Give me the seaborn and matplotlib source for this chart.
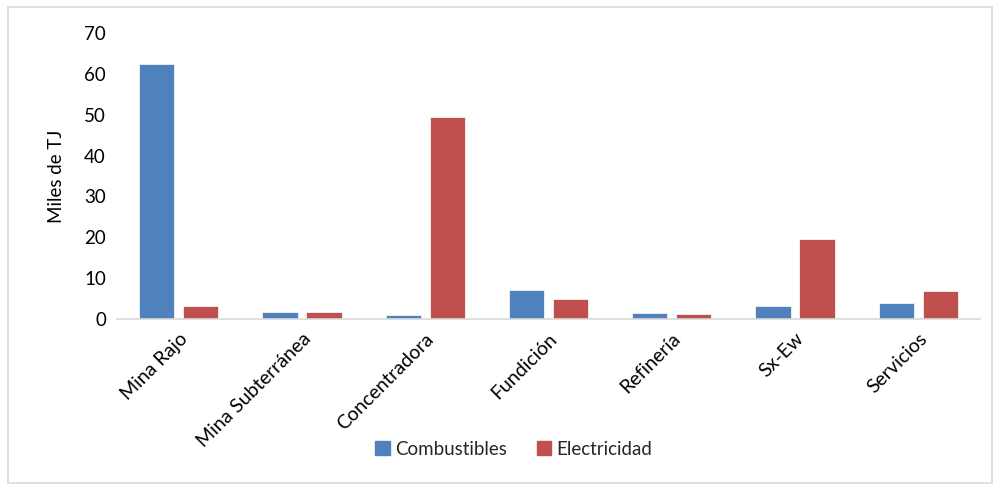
import matplotlib
matplotlib.use("Agg")
import matplotlib.pyplot as plt
import matplotlib.patches as mpatches
import seaborn as sns
import pandas as pd

categorias = ["Mina Rajo", "Mina Subterránea", "Concentradora", "Fundición",
              "Refinería", "Sx-Ew", "Servicios"]
combustibles = [62.5, 1.6, 1.0, 7.1, 1.5, 3.2, 3.8]
electricidad = [3.1, 1.6, 49.5, 5.0, 1.2, 19.5, 6.9]
series = ["Combustibles", "Electricidad"]
colores = ["#4F81BD", "#C0504D"]
yticks = [0, 10, 20, 30, 40, 50, 60, 70]

df = pd.DataFrame({
    "categoria": categorias * 2,
    "serie": [series[0]] * len(categorias) + [series[1]] * len(categorias),
    "valor": combustibles + electricidad,
})

sns.set_theme(style="white")
plt.rcParams["font.family"] = ["Lato", "DejaVu Sans"]

fig = plt.figure(figsize=(10, 4.87), dpi=100)
ax = fig.add_axes([0.117, 0.345, 0.863, 0.587])

sns.barplot(data=df, x="categoria", y="valor", hue="serie", palette=colores,
            saturation=1, width=0.714, gap=0.2, edgecolor="#f4f4f4",
            linewidth=0.6, legend=False, ax=ax)

ax.set_ylim(0, 70)
ax.set_yticks(yticks)
ax.set_yticklabels([str(v) for v in yticks], fontsize=13.5, color="#000000")
ax.set_xlim(-0.5, len(categorias) - 0.5)
ax.set_xlabel("")
ax.set_ylabel("Miles de TJ", fontsize=13.5, color="#000000", labelpad=14)
ax.tick_params(axis="both", length=0, pad=8)
ax.set_xticks(range(len(categorias)))
ax.set_xticklabels(categorias, rotation=45, ha="right", rotation_mode="anchor",
                   fontsize=14, color="#000000")
ax.tick_params(axis="x", pad=8)

for side in ["top", "right", "left"]:
    ax.spines[side].set_visible(False)
ax.spines["bottom"].set_color("#d9d9d9")
ax.spines["bottom"].set_linewidth(1.2)

handles = [mpatches.Patch(color=c, label=s) for s, c in zip(series, colores)]
fig.legend(handles=handles, loc="center", bbox_to_anchor=(0.514, 0.078),
           ncol=2, frameon=False, fontsize=13.5, handlelength=0.75,
           handleheight=0.75, handletextpad=0.3, columnspacing=1.6)

border = mpatches.Rectangle((0.008, 0.008), 0.984, 0.978, transform=fig.transFigure,
                            fill=False, edgecolor="#d9d9d9", linewidth=1.2)
fig.patches.append(border)

fig.savefig("out.png", dpi=100, facecolor="white")
